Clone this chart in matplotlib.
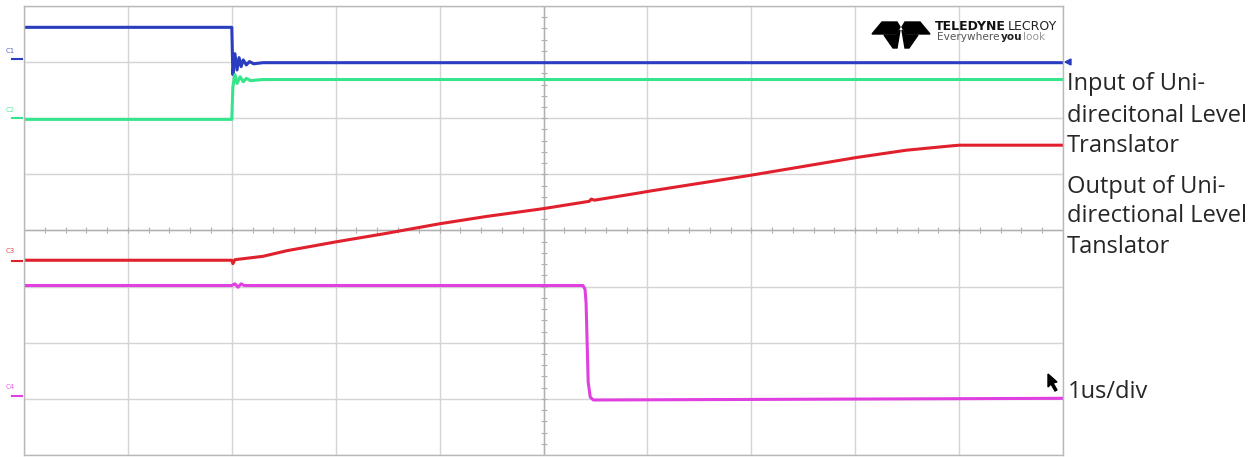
"""
Oscilloscope capture: uni-directional level translator, 1 us/div.
"""
import numpy as np
import matplotlib.pyplot as plt
from matplotlib.patches import Polygon

# --- traces (time in divisions, level in divisions) ---------------------------
blue_t = [-5.0, -3.0, -2.99, -2.97, -2.95, -2.93, -2.91, -2.89, -2.86, -2.83, -2.79, -2.7, 5.0]
blue_v = [3.62, 3.62, 2.78, 3.15, 2.86, 3.08, 2.92, 3.04, 2.95, 3.01, 2.97, 2.99, 2.99]

green_t = [-5.0, -3.0, -2.99, -2.97, -2.95, -2.92, -2.89, -2.86, -2.82, -2.7, 5.0]
green_v = [1.98, 1.98, 2.55, 2.78, 2.62, 2.74, 2.65, 2.71, 2.67, 2.69, 2.69]

red_t = [-5.0, -3.0, -2.99, -2.97, -2.70, -2.47, -1.99, -1.51, -1.0, -0.55, 0.0,
         0.44, 0.46, 0.49, 0.89, 1.05, 1.98, 2.56, 3.01, 3.49, 3.88, 4.0, 5.0]
red_v = [-0.53, -0.53, -0.59, -0.52, -0.46, -0.36, -0.20, -0.05, 0.12, 0.25, 0.39,
         0.52, 0.56, 0.54, 0.66, 0.71, 0.98, 1.16, 1.30, 1.43, 1.50, 1.52, 1.52]

mag_t = [-5.0, -3.0, -2.97, -2.94, -2.91, -2.88, 0.38, 0.40, 0.41, 0.42, 0.43, 0.45, 0.48, 5.0]
mag_v = [-0.98, -0.98, -0.95, -1.01, -0.95, -0.98, -0.98, -1.05, -1.3, -2.0, -2.7, -2.97, -3.02, -2.99]

labels_in = ["Input of Uni-", "direcitonal Level", "Translator"]
labels_out = ["Output of Uni-", "directional Level", "Tanslator"]
timebase = "1us/div"

C_BLUE = "#2a3cc0"
C_GREEN = "#35e58c"
C_RED = "#e0202c"
C_MAG = "#e040e0"
C_GRID = "#d4d4d4"

W, H = 1251, 457


def px(x, y):
    """pixel (from top-left) -> figure fraction"""
    return x / W, 1 - y / H


fig = plt.figure(figsize=(W / 100, H / 100), dpi=100)
fig.patch.set_facecolor("white")
l, t = px(24, 6)
r, b = px(1063, 455)
ax = fig.add_axes([l, b, r - l, t - b])

ax.set_xlim(-5, 5)
ax.set_ylim(-4, 4)
ax.set_xticks(np.arange(-5, 6, 1))
ax.set_yticks(np.arange(-4, 5, 1))
ax.grid(True, color=C_GRID, lw=1)
ax.tick_params(length=0, labelbottom=False, labelleft=False)
for s in ax.spines.values():
    s.set_color("#b8b8b8")
    s.set_linewidth(1)

# centre cross with small ticks
ax.axhline(0, color="#b0b0b0", lw=1)
ax.axvline(0, color="#b0b0b0", lw=1)
minor = np.arange(-5, 5.01, 0.2)
ax.plot(minor, np.zeros_like(minor), ls="", marker="|", ms=4, color="#b0b0b0", mew=0.8)
minor_y = np.arange(-4, 4.01, 0.2)
ax.plot(np.zeros_like(minor_y), minor_y, ls="", marker="_", ms=4, color="#b0b0b0", mew=0.8)

ax.plot(blue_t, blue_v, color=C_BLUE, lw=2.2, solid_joinstyle="round")
ax.plot(green_t, green_v, color=C_GREEN, lw=2.2, solid_joinstyle="round")
ax.plot(red_t, red_v, color=C_RED, lw=2.2, solid_joinstyle="round")
ax.plot(mag_t, mag_v, color=C_MAG, lw=2.2, solid_joinstyle="round")

# channel labels and ground markers on the left
for name, col, ly, my in [("C1", C_BLUE, 51, 59), ("C2", C_GREEN, 110, 118),
                          ("C3", C_RED, 251, 261), ("C4", C_MAG, 387, 396)]:
    fig.text(*px(6, ly), name, color=col, fontsize=5, va="center", ha="left", alpha=0.8)
    fig.add_artist(plt.Line2D([12 / W, 22 / W], [1 - my / H] * 2, color=col, lw=1.5))

# trigger level marker
fig.add_artist(Polygon([px(1065, 62), px(1071, 59), px(1071, 65)], closed=True,
                       color=C_BLUE, transform=fig.transFigure))

# logo
logo = [
    [(872, 34), (882, 22), (897, 22), (900, 27), (896, 34)],
    [(930, 34), (920, 22), (905, 22), (902, 27), (906, 34)],
    [(884, 35), (896, 35), (900, 30), (897, 48), (893, 48)],
    [(918, 35), (906, 35), (902, 30), (905, 48), (909, 48)],
]
for pts in logo:
    fig.add_artist(Polygon([px(*p) for p in pts], closed=True, color="black",
                           transform=fig.transFigure))

renderer = fig.canvas.get_renderer()


def run_of_text(x0, y, parts, size):
    """place text pieces one after another on a line"""
    x = x0
    for txt, weight, col in parts:
        tx = fig.text(*px(x, y), txt, fontsize=size, va="center", fontweight=weight,
                      family="DejaVu Sans Condensed", color=col)
        x += tx.get_window_extent(renderer).width + 1


run_of_text(935, 26, [("TELEDYNE", "bold", "#111")], 9)
fig.text(*px(1008, 26), "LECROY", fontsize=9, va="center",
         family="DejaVu Sans Condensed", color="#222")
run_of_text(937, 37, [("Everywhere", "normal", "#555"), ("you", "bold", "#222"),
                      ("look", "normal", "#999")], 7.6)

# mouse cursor
fig.add_artist(Polygon([px(1048, 374), px(1048, 387), px(1051, 384), px(1055, 391),
                        px(1057, 390), px(1053, 383), px(1057, 382)], closed=True,
                       color="black", transform=fig.transFigure))

# annotations on the right
kw = dict(fontsize=17, family="Open Sans", color="#262626", ha="left", va="center")
for txt, y in zip(labels_in, [84, 116, 146]):
    fig.text(*px(1067, y), txt, **kw)
for txt, y in zip(labels_out, [187, 216, 247]):
    fig.text(*px(1067, y), txt, **kw)
fig.text(*px(1068, 392), timebase, **kw)

fig.savefig("out.png", dpi=100, facecolor="white")
